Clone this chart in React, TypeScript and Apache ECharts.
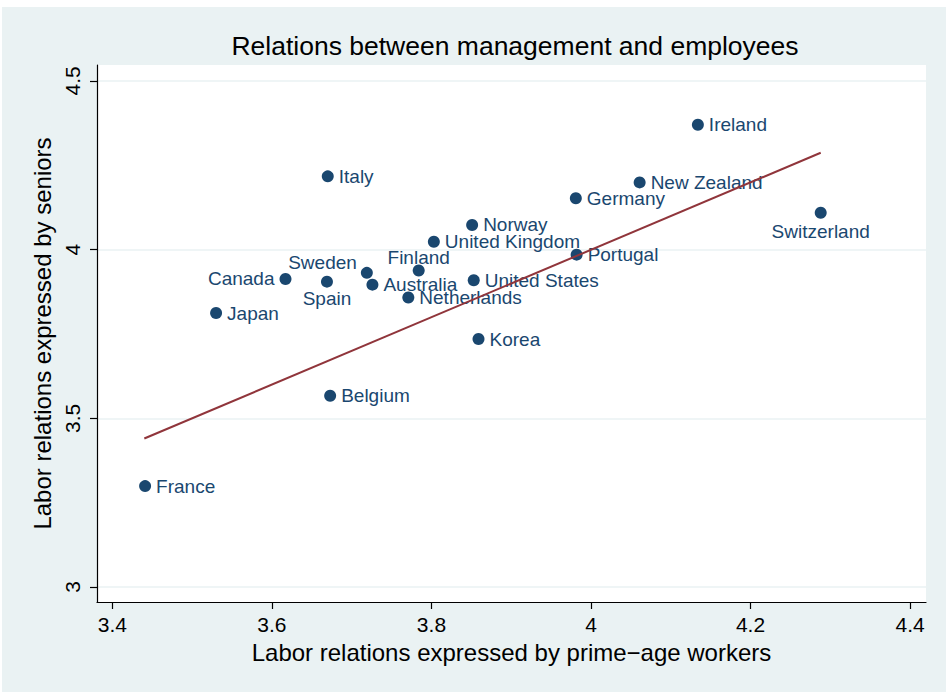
import React, { useEffect, useRef } from "react";
import * as echarts from "echarts";

const countries = [
  "France", "Japan", "Canada", "Spain", "Italy", "Belgium", "Sweden", "Australia",
  "Netherlands", "Finland", "United Kingdom", "Norway", "United States", "Korea",
  "Germany", "Portugal", "New Zealand", "Ireland", "Switzerland",
];
const primeAge = [
  3.441, 3.530, 3.617, 3.669, 3.670, 3.673, 3.719, 3.726,
  3.771, 3.784, 3.803, 3.851, 3.853, 3.859,
  3.981, 3.982, 4.061, 4.134, 4.288,
];
const seniors = [
  3.299, 3.812, 3.913, 3.905, 4.217, 3.567, 3.931, 3.896,
  3.858, 3.938, 4.023, 4.073, 3.909, 3.735,
  4.152, 3.985, 4.199, 4.370, 4.109,
];
const fitX = [3.440, 4.288];
const fitY = [3.440, 4.287];
const xTicks = [3.4, 3.6, 3.8, 4, 4.2, 4.4];
const yTicks = [3, 3.5, 4, 4.5];

const FONT = "'Liberation Sans', Arial, Helvetica, sans-serif";
const NAVY = "#1a476f";
const MAROON = "#90353b";
const BG = "#eaf2f3";

function labelFor(name: string) {
  const base: any = { position: "right", distance: 5 };
  if (name === "Canada") return { position: "left", distance: 5 };
  if (name === "Sweden") return { position: "left", distance: 5, offset: [1, -10] };
  if (name === "Spain") return { position: "bottom", distance: 1 };
  if (name === "Finland") return { position: "top", distance: 0, offset: [0, 2] };
  if (name === "Switzerland") return { position: "bottom", distance: 3 };
  return base;
}

export default function App() {
  const ref = useRef<HTMLDivElement>(null);
  useEffect(() => {
    if (!ref.current) return;
    const chart = echarts.init(ref.current, null, { renderer: "svg" });
    const scatterData = countries.map((c, i) => ({
      name: c,
      value: [primeAge[i], seniors[i]],
      label: labelFor(c),
    }));
    chart.setOption({
      animation: false,
      backgroundColor: BG,
      title: {
        text: "Relations between management and employees",
        left: 508,
        top: 20,
        textAlign: "center",
        textStyle: { fontFamily: FONT, fontSize: 26.5, fontWeight: "normal", color: "#000" },
      },
      grid: {
        left: 95,
        right: 20,
        top: 58,
        bottom: 90,
        show: true,
        backgroundColor: "#ffffff",
        borderWidth: 0,
        containLabel: false,
      },
      xAxis: {
        type: "value",
        min: 3.3807,
        max: 4.42,
        name: "Labor relations expressed by prime\u2212age workers",
        nameLocation: "middle",
        nameGap: 38,
        nameTextStyle: { fontFamily: FONT, fontSize: 24, color: "#000" },
        axisLine: { show: true, onZero: false, lineStyle: { color: "#000", width: 1.2 } },
        axisTick: { show: true, length: 7, customValues: xTicks, lineStyle: { color: "#000", width: 1.2 } },
        axisLabel: {
          customValues: xTicks,
          fontFamily: FONT,
          fontSize: 21,
          color: "#000",
          margin: 12,
          formatter: (v: number) => String(Math.round(v * 10) / 10),
        },
        splitLine: { show: false },
      },
      yAxis: {
        type: "value",
        min: 2.9556,
        max: 4.547,
        name: "Labor relations expressed by seniors",
        nameLocation: "middle",
        nameGap: 43,
        nameTextStyle: { fontFamily: FONT, fontSize: 24, color: "#000" },
        axisLine: { show: true, onZero: false, lineStyle: { color: "#000", width: 1.2 } },
        axisTick: { show: true, length: 7, customValues: yTicks, lineStyle: { color: "#000", width: 1.2 } },
        axisLabel: {
          customValues: yTicks,
          rotate: 90,
          fontFamily: FONT,
          fontSize: 21,
          color: "#000",
          margin: 14,
          formatter: (v: number) => String(Math.round(v * 10) / 10),
        },
        splitLine: { show: true, lineStyle: { color: BG, width: 1.5 } },
      },
      series: [
        {
          type: "scatter",
          symbol: "circle",
          symbolSize: 12,
          itemStyle: { color: NAVY, opacity: 1 },
          label: {
            show: true,
            formatter: "{b}",
            color: NAVY,
            fontFamily: FONT,
            fontSize: 19,
          },
          data: scatterData,
          z: 2,
        },
        {
          type: "line",
          data: fitX.map((x, i) => [x, fitY[i]]),
          symbol: "none",
          lineStyle: { color: MAROON, width: 2 },
          z: 3,
        },
      ],
    });
    return () => chart.dispose();
  }, []);
  return (
    <div style={{ position: "absolute", left: 0, top: 0, width: 946, height: 692, background: "#ffffff" }}>
      <div ref={ref} style={{ position: "absolute", left: 2, top: 7, width: 944, height: 685 }} />
    </div>
  );
}
